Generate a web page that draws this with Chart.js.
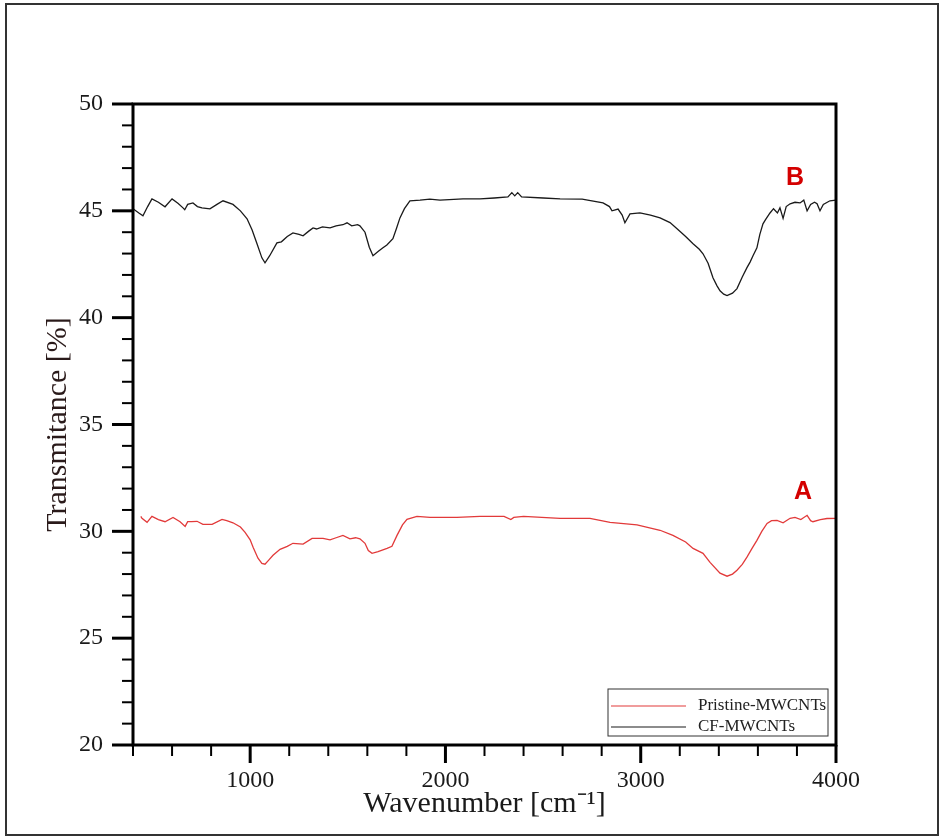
<!DOCTYPE html>
<html>
<head>
<meta charset="utf-8">
<script src="https://cdn.jsdelivr.net/npm/chart.js@4.4.1/dist/chart.umd.min.js"></script>
<style>
body { margin: 0; background: #fff; }
canvas { display: block; }
</style>
</head>
<body>
<canvas id="ftir" width="944" height="837"></canvas>
<script>
// FTIR spectra, transmittance vs wavenumber

let wnB = [400, 430, 451, 475, 497, 530, 564, 600, 630, 656, 665, 680, 707, 730, 753, 794, 830, 861, 912, 950,
  984, 1010, 1035, 1060, 1076, 1100, 1137, 1160, 1190, 1219, 1250, 1271, 1300, 1322, 1340, 1370, 1409, 1440, 1475, 1496,
  1520, 1550, 1562, 1588, 1610, 1629, 1655, 1680, 1700, 1731, 1750, 1767, 1790, 1818, 1870, 1920, 1972, 2090, 2177, 2250,
  2320, 2340, 2355, 2370, 2390, 2500, 2587, 2700, 2807, 2840, 2853, 2884, 2905, 2919, 2945, 2996, 3050, 3099, 3150, 3186,
  3230, 3268, 3300, 3319, 3345, 3370, 3390, 3406, 3425, 3442, 3470, 3493, 3520, 3544, 3560, 3575, 3595, 3610, 3626, 3640,
  3662, 3680, 3700, 3713, 3729, 3745, 3765, 3790, 3816, 3835, 3852, 3870, 3890, 3903, 3918, 3935, 3969, 4000];
let tB = [45.1, 44.9, 44.77, 45.2, 45.56, 45.4, 45.19, 45.56, 45.35, 45.14, 45.05, 45.3, 45.37, 45.2, 45.14, 45.09, 45.3, 45.47, 45.3, 45.0,
  44.63, 44.1, 43.46, 42.8, 42.57, 42.9, 43.5, 43.55, 43.8, 43.97, 43.9, 43.83, 44.05, 44.2, 44.15, 44.25, 44.2, 44.3, 44.35, 44.44,
  44.3, 44.35, 44.3, 44.0, 43.3, 42.9, 43.1, 43.27, 43.4, 43.7, 44.2, 44.67, 45.1, 45.47, 45.5, 45.55, 45.5, 45.56, 45.56, 45.6,
  45.65, 45.85, 45.7, 45.85, 45.65, 45.6, 45.56, 45.55, 45.37, 45.2, 45.0, 45.08, 44.8, 44.44, 44.86, 44.9, 44.8, 44.67, 44.45, 44.16,
  43.8, 43.46, 43.2, 42.99, 42.55, 41.87, 41.5, 41.26, 41.1, 41.03, 41.15, 41.36, 41.9, 42.34, 42.6, 42.9, 43.27, 43.9, 44.39, 44.6,
  44.9, 45.1, 44.9, 45.14, 44.65, 45.2, 45.33, 45.4, 45.37, 45.5, 45.0, 45.3, 45.4, 45.33, 45.0, 45.3, 45.47, 45.5];

let wnA = [440, 446, 472, 497, 530, 564, 605, 641, 667, 680, 700, 728, 758, 805, 856, 880, 912, 950, 974, 1000,
  1015, 1040, 1060, 1076, 1095, 1117, 1153, 1190, 1219, 1271, 1317, 1373, 1409, 1440, 1475, 1511, 1540, 1562, 1588, 1605,
  1624, 1655, 1701, 1726, 1752, 1780, 1803, 1854, 1921, 2059, 2177, 2300, 2335, 2350, 2400, 2587, 2740, 2843, 2981, 3099,
  3165, 3230, 3268, 3319, 3355, 3406, 3442, 3470, 3493, 3520, 3544, 3570, 3595, 3620, 3647, 3670, 3698, 3729, 3765, 3790,
  3820, 3852, 3870, 3882, 3920, 3954, 4000];
let tA = [30.7, 30.61, 30.42, 30.7, 30.55, 30.45, 30.65, 30.45, 30.23, 30.45, 30.45, 30.47, 30.33, 30.33, 30.56, 30.5, 30.4, 30.2, 29.95, 29.6,
  29.25, 28.74, 28.5, 28.46, 28.65, 28.88, 29.16, 29.3, 29.44, 29.4, 29.67, 29.67, 29.6, 29.7, 29.81, 29.65, 29.7, 29.65, 29.44, 29.1,
  28.97, 29.05, 29.2, 29.3, 29.81, 30.3, 30.56, 30.7, 30.65, 30.65, 30.7, 30.7, 30.55, 30.65, 30.7, 30.61, 30.61, 30.42, 30.3, 30.05,
  29.81, 29.5, 29.2, 28.97, 28.55, 28.04, 27.9, 28.0, 28.18, 28.45, 28.79, 29.2, 29.58, 30.0, 30.37, 30.5, 30.51, 30.4, 30.61, 30.65,
  30.55, 30.75, 30.5, 30.45, 30.55, 30.6, 30.61];

let seriesNames = ["Pristine-MWCNTs", "CF-MWCNTs"];
let seriesColors = ["#e23a3a", "#1a1a1a"];

// curve tags: letter, wavenumber, transmittance
let tagText = ["A", "B"];
let tagWn = [3831, 3790];
let tagT = [31.84, 46.54];

function toPoints(xs, ys) {
  return xs.map((x, i) => ({ x: x, y: ys[i] }));
}

const serif = "'Liberation Serif', 'Times New Roman', serif";

let decorations = {
  id: "decorations",
  afterDraw(chart) {
    let c = chart.ctx;
    let area = chart.chartArea;
    let xs = chart.scales.x;
    let ys = chart.scales.y;
    c.save();

    // outer picture frame
    c.strokeStyle = "#333";
    c.lineWidth = 2;
    c.strokeRect(6, 4, chart.width - 12, chart.height - 6);

    // plot box
    c.strokeStyle = "#000";
    c.lineWidth = 3;
    c.strokeRect(area.left, area.top, area.right - area.left, area.bottom - area.top);

    // ticks, drawn outward
    xs.ticks.forEach(t => {
      let px = xs.getPixelForValue(t.value);
      let major = t.value % 1000 === 0;
      c.lineWidth = major ? 3 : 2;
      c.beginPath();
      c.moveTo(px, area.bottom);
      c.lineTo(px, area.bottom + (major ? 18 : 11));
      c.stroke();
    });
    ys.ticks.forEach(t => {
      let py = ys.getPixelForValue(t.value);
      let major = t.value % 5 === 0;
      c.lineWidth = major ? 3 : 2;
      c.beginPath();
      c.moveTo(area.left, py);
      c.lineTo(area.left - (major ? 21 : 11), py);
      c.stroke();
    });

    // legend box in the lower right corner
    let bw = 220, bh = 47;
    let bx = area.right - 8 - bw;
    let by = area.bottom - 9 - bh;
    c.fillStyle = "#fff";
    c.fillRect(bx, by, bw, bh);
    c.strokeStyle = "#333";
    c.lineWidth = 1;
    c.strokeRect(bx, by, bw, bh);
    c.font = "17px " + serif;
    c.textBaseline = "middle";
    chart.data.datasets.forEach((ds, i) => {
      let ly = by + 17 + i * 21;
      c.strokeStyle = ds.borderColor;
      c.lineWidth = 1.2;
      c.beginPath();
      c.moveTo(bx + 3, ly);
      c.lineTo(bx + 78, ly);
      c.stroke();
      c.fillStyle = "#222";
      c.fillText(ds.label, bx + 90, ly);
    });

    // curve tags
    c.font = "bold 25px 'Liberation Sans', Arial, sans-serif";
    c.fillStyle = "#d40000";
    c.textAlign = "center";
    tagText.forEach((s, i) => {
      c.fillText(s, xs.getPixelForValue(tagWn[i]), ys.getPixelForValue(tagT[i]));
    });
    c.restore();
  }
};

let spectraChart = new Chart(document.getElementById("ftir").getContext("2d"), {
  type: "line",
  data: {
    datasets: [
      {
        label: seriesNames[0],
        data: toPoints(wnA, tA),
        borderColor: seriesColors[0],
        borderWidth: 1.3,
        pointRadius: 0,
        tension: 0
      },
      {
        label: seriesNames[1],
        data: toPoints(wnB, tB),
        borderColor: seriesColors[1],
        borderWidth: 1.3,
        pointRadius: 0,
        tension: 0
      }
    ]
  },
  options: {
    responsive: false,
    animation: false,
    layout: { padding: { left: 0, right: 108, top: 104, bottom: 0 } },
    plugins: { legend: { display: false }, tooltip: { enabled: false } },
    scales: {
      x: {
        type: "linear",
        min: 400,
        max: 4000,
        grid: { display: false, drawTicks: false },
        border: { display: false },
        ticks: {
          stepSize: 200,
          autoSkip: false,
          maxRotation: 0,
          padding: 21,
          color: "#1a1a1a",
          font: { family: serif, size: 24 },
          callback: v => (v % 1000 === 0 ? v : "")
        },
        title: {
          display: true,
          text: "Wavenumber [cm\u207B\u00B9]",
          color: "#1a1a1a",
          font: { family: serif, size: 30 },
          padding: { top: 0, bottom: 15 }
        },
        afterFit: s => { s.height = 92; }
      },
      y: {
        min: 20,
        max: 50,
        grid: { display: false, drawTicks: false },
        border: { display: false },
        ticks: {
          stepSize: 1,
          autoSkip: false,
          padding: 30,
          color: "#1a1a1a",
          font: { family: serif, size: 24 },
          callback: v => (v % 5 === 0 ? v : "")
        },
        title: {
          display: true,
          text: "Transmitance [%]",
          color: "#2a1a1a",
          font: { family: serif, size: 30 },
          padding: { top: 40, bottom: 0 }
        },
        afterFit: s => { s.width = 133; }
      }
    }
  },
  plugins: [decorations]
});
</script>
</body>
</html>
